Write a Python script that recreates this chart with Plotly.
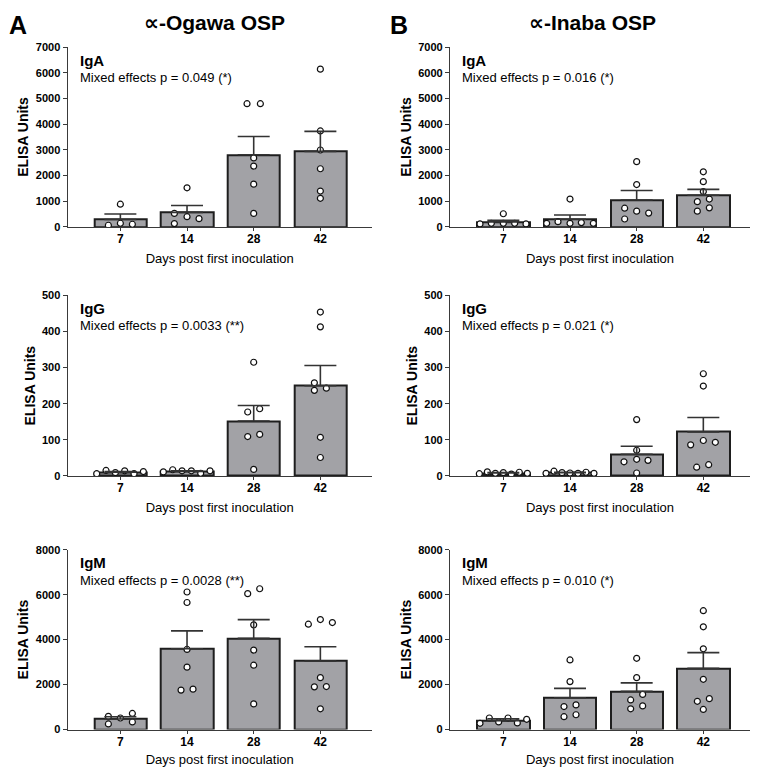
import plotly.graph_objects as go

# ---------------- data ----------------
days = ["7", "14", "28", "42"]

ogawa_iga_mean = [290, 565, 2810, 2940]
ogawa_iga_sem = [210, 270, 710, 780]
ogawa_iga_pts = [[64, 141, 102, 883],
                 [525, 397, 320, 128, 1523],
                 [4799, 4799, 2687, 2368, 1664, 525],
                 [6143, 3737, 2995, 2265, 1395, 1113]]
ogawa_iga_jit = [[-0.18, 0, 0.18, 0],
                 [-0.19, 0, 0.18, -0.19, 0],
                 [-0.1, 0.1, 0, 0, 0, 0],
                 [0, 0, 0, 0, 0, 0]]

ogawa_igg_mean = [10, 12, 152, 250]
ogawa_igg_sem = [2, 2, 43, 56]
ogawa_igg_pts = [[6, 15, 9, 14, 6, 12],
                 [11, 17, 14, 14, 7, 14],
                 [315, 177, 186, 109, 115, 18],
                 [454, 413, 258, 237, 243, 107, 51]]
ogawa_igg_jit = [[-0.355, -0.215, -0.075, 0.065, 0.205, 0.345],
                 [-0.355, -0.215, -0.075, 0.065, 0.205, 0.345],
                 [0, -0.09, 0.09, -0.09, 0.09, 0],
                 [0, 0, -0.09, -0.09, 0.09, 0, 0]]

ogawa_igm_mean = [470, 3590, 4060, 3040]
ogawa_igm_sem = [100, 800, 830, 640]
ogawa_igm_pts = [[584, 511, 715, 248, 336],
                 [6117, 5650, 3562, 2774, 1752, 1796],
                 [6044, 6263, 4657, 3533, 2861, 1139],
                 [4686, 4891, 4759, 2307, 1898, 1912, 920]]
ogawa_igm_jit = [[-0.18, 0, 0.18, -0.18, 0.18],
                 [0, 0, 0, 0, -0.09, 0.09],
                 [-0.09, 0.09, 0, 0, 0, 0],
                 [-0.18, 0, 0.18, 0, -0.09, 0.09, 0]]

inaba_iga_mean = [195, 300, 1050, 1230]
inaba_iga_sem = [65, 160, 370, 230]
inaba_iga_pts = [[115, 140, 140, 140, 115, 511],
                 [140, 204, 140, 166, 140, 1085],
                 [2541, 1648, 728, 613, 536, 307],
                 [2146, 1762, 1379, 983, 1085, 613, 741]]
inaba_iga_jit = [[-0.35, -0.18, 0, 0.17, 0.34, 0],
                 [-0.35, -0.18, 0, 0.17, 0.35, 0],
                 [0, 0, -0.18, 0, 0.18, -0.18],
                 [0, 0, 0, -0.09, 0.09, -0.09, 0.09]]

inaba_igg_mean = [8, 9, 60, 122]
inaba_igg_sem = [1, 1, 22, 40]
inaba_igg_pts = [[6, 11, 7, 9, 5, 10, 7],
                 [7, 13, 9, 8, 7, 10, 7],
                 [156, 71, 39, 46, 43, 8],
                 [283, 249, 86, 98, 93, 24, 31]]
inaba_igg_jit = [[-0.36, -0.24, -0.12, 0, 0.12, 0.24, 0.36],
                 [-0.36, -0.24, -0.12, 0, 0.12, 0.24, 0.36],
                 [0, 0, -0.19, 0, 0.17, 0],
                 [0, 0, -0.19, 0, 0.18, -0.1, 0.08]]

inaba_igm_mean = [395, 1410, 1700, 2720]
inaba_igm_sem = [85, 420, 375, 700]
inaba_igm_pts = [[277, 511, 336, 511, 292, 453],
                 [3095, 2131, 1022, 1095, 569, 657],
                 [3168, 2307, 1314, 1562, 920, 1051],
                 [5285, 4569, 3591, 2234, 1255, 1372, 891]]
inaba_igm_jit = [[-0.35, -0.21, -0.07, 0.07, 0.21, 0.35],
                 [0, 0, -0.09, 0.09, -0.09, 0.09],
                 [0, 0, -0.09, 0.09, -0.09, 0.09],
                 [0, 0, 0, 0, -0.09, 0.09, 0]]

isotypes = ["IgA", "IgG", "IgM"]
ogawa_pvals = ["Mixed effects p = 0.049 (*)", "Mixed effects p = 0.0033 (**)", "Mixed effects p = 0.0028 (**)"]
inaba_pvals = ["Mixed effects p = 0.016 (*)", "Mixed effects p = 0.021 (*)", "Mixed effects p = 0.010 (*)"]
y_max = [7000, 500, 8000]
y_dtick = [1000, 100, 2000]

# ---------------- layout helpers ----------------
OFF = 8                      # default page body margin
W, H = 758 - 2 * OFF, 775 - 2 * OFF   # figure fits the window exactly


def px_x(p):
    return (p - OFF) / W


def px_y(p):
    return 1 - (p - OFF) / H


FONT = "Liberation Sans, Arial, DejaVu Sans, sans-serif"
BAR_FILL = "#a2a2a6"
DARK = "#1e1e1e"
AXIS = "#3a3a3a"

x_domains = [[px_x(67.7), px_x(371.7)], [px_x(450), min(1.0, px_x(750.0))]]
x_ranges = [[-0.79, 3.77], [-0.80, 3.70]]
y_domains = [[px_y(224.3), px_y(41.7)], [px_y(477.3), px_y(294)], [px_y(735), px_y(552.3)]]

panels = [
    (0, 0, ogawa_iga_mean, ogawa_iga_sem, ogawa_iga_pts, ogawa_iga_jit, ogawa_pvals[0]),
    (0, 1, ogawa_igg_mean, ogawa_igg_sem, ogawa_igg_pts, ogawa_igg_jit, ogawa_pvals[1]),
    (0, 2, ogawa_igm_mean, ogawa_igm_sem, ogawa_igm_pts, ogawa_igm_jit, ogawa_pvals[2]),
    (1, 0, inaba_iga_mean, inaba_iga_sem, inaba_iga_pts, inaba_iga_jit, inaba_pvals[0]),
    (1, 1, inaba_igg_mean, inaba_igg_sem, inaba_igg_pts, inaba_igg_jit, inaba_pvals[1]),
    (1, 2, inaba_igm_mean, inaba_igm_sem, inaba_igm_pts, inaba_igm_jit, inaba_pvals[2]),
]

fig = go.Figure()
layout = {}
annotations = []
cat_pos = list(range(len(days)))

for k, (col, row, means, sems, pts, jit, ptxt) in enumerate(panels, start=1):
    xa = "x" if k == 1 else f"x{k}"
    ya = "y" if k == 1 else f"y{k}"
    # bars
    fig.add_trace(go.Bar(
        x=cat_pos, y=means, width=0.785, xaxis=xa, yaxis=ya,
        marker=dict(color=BAR_FILL, line=dict(color=DARK, width=2)),
        showlegend=False, hoverinfo="skip"))
    # individual points
    xs, ys = [], []
    for i, (vals, js) in enumerate(zip(pts, jit)):
        for v, j in zip(vals, js):
            xs.append(i + j)
            ys.append(v)
    fig.add_trace(go.Scatter(
        x=xs, y=ys, mode="markers", xaxis=xa, yaxis=ya,
        marker=dict(size=6, color="white", line=dict(color="#111111", width=1.2)),
        showlegend=False, hoverinfo="skip"))
    # SEM error bars (upper only)
    fig.add_trace(go.Scatter(
        x=cat_pos, y=means, mode="markers", xaxis=xa, yaxis=ya,
        marker=dict(size=1, color="rgba(0,0,0,0)"),
        error_y=dict(type="data", symmetric=False, array=sems,
                     arrayminus=[0] * len(sems), width=16, thickness=1.6, color="#333333"),
        showlegend=False, hoverinfo="skip"))

    xkey = "xaxis" if k == 1 else f"xaxis{k}"
    ykey = "yaxis" if k == 1 else f"yaxis{k}"
    layout[xkey] = dict(
        domain=x_domains[col], range=x_ranges[col], anchor=ya,
        tickmode="array", tickvals=cat_pos, ticktext=days,
        showline=True, linecolor=AXIS, linewidth=1.3,
        ticks="outside", ticklen=3, tickwidth=1, tickcolor=AXIS,
        ticklabelstandoff=-2,
        showgrid=False, zeroline=False, fixedrange=True,
        tickfont=dict(family=FONT, size=12, color="black", weight="bold"),
        title=dict(text="Days post first inoculation", standoff=8,
                   font=dict(family=FONT, size=13, color="black")))
    layout[ykey] = dict(
        domain=y_domains[row], range=[0, y_max[row]], anchor=xa,
        dtick=y_dtick[row], tick0=0,
        showline=True, linecolor=AXIS, linewidth=1.3,
        ticks="outside", ticklen=4, tickwidth=1, tickcolor=AXIS,
        showgrid=False, zeroline=False, fixedrange=True,
        tickfont=dict(family=FONT, size=11, color="black", weight="bold"),
        title=dict(text="ELISA Units", standoff=3,
                   font=dict(family=FONT, size=14, color="black", weight="bold")))

    xd = "x domain" if k == 1 else f"x{k} domain"
    yd = "y domain" if k == 1 else f"y{k} domain"
    annotations.append(dict(
        text=isotypes[row], xref=xd, yref=yd, x=0, y=1, xshift=10, yshift=-13,
        xanchor="left", yanchor="middle", showarrow=False,
        font=dict(family=FONT, size=15, color="black", weight="bold")))
    annotations.append(dict(
        text=ptxt, xref=xd, yref=yd, x=0, y=1, xshift=10, yshift=-30.5,
        xanchor="left", yanchor="middle", showarrow=False,
        font=dict(family=FONT, size=13, color="black")))

# column titles and panel letters (kept just inside the figure edge)
annotations += [
    dict(text="∝-Ogawa OSP", xref="paper", yref="paper", x=px_x(214.5), y=1,
         xanchor="center", yanchor="top", yshift=5, showarrow=False,
         font=dict(family=FONT, size=21, color="black", weight="bold")),
    dict(text="∝-Inaba OSP", xref="paper", yref="paper", x=px_x(592), y=1,
         xanchor="center", yanchor="top", yshift=5, showarrow=False,
         font=dict(family=FONT, size=21, color="black", weight="bold")),
    dict(text="A", xref="paper", yref="paper", x=0, y=1,
         xanchor="left", yanchor="top", xshift=-1, yshift=5, showarrow=False,
         font=dict(family=FONT, size=25, color="black", weight="bold")),
    dict(text="B", xref="paper", yref="paper", x=px_x(388), y=1,
         xanchor="left", yanchor="top", yshift=5, showarrow=False,
         font=dict(family=FONT, size=25, color="black", weight="bold")),
]

fig.update_layout(
    width=W, height=H,
    margin=dict(l=0, r=0, t=0, b=0),
    paper_bgcolor="white", plot_bgcolor="white",
    barmode="overlay", bargap=0,
    annotations=annotations,
    showlegend=False,
    **layout)

fig.write_html("out.html")
